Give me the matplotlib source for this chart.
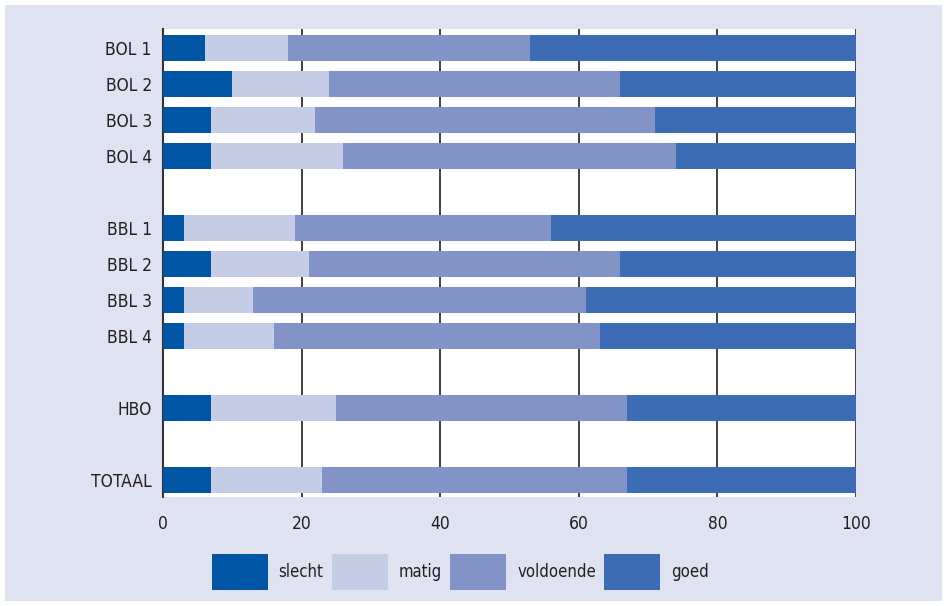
import numpy as np
import matplotlib.pyplot as plt
from matplotlib.patches import Patch

plt.rcParams["font.family"] = ["DejaVu Sans"]
plt.rcParams["font.stretch"] = "condensed"

# data (percentages)
categories = ["BOL 1", "BOL 2", "BOL 3", "BOL 4",
              "BBL 1", "BBL 2", "BBL 3", "BBL 4",
              "HBO", "TOTAAL"]
row_pos = [0, 1, 2, 3, 5, 6, 7, 8, 10, 12]
series = ["slecht", "matig", "voldoende", "goed"]
slecht = [6, 10, 7, 7, 3, 7, 3, 3, 7, 7]
matig = [12, 14, 15, 19, 16, 14, 10, 13, 18, 16]
voldoende = [35, 42, 49, 48, 37, 45, 48, 47, 42, 44]
goed = [47, 34, 29, 26, 44, 34, 39, 37, 33, 33]
xticks = [0, 20, 40, 60, 80, 100]

colors = ["#0055a5", "#c5cce6", "#8293c8", "#3c6cb4"]
bg = "#dfe2f1"
txt = "#231f20"

fig = plt.figure(figsize=(9.47, 6.06), dpi=100, facecolor=bg,
                 edgecolor="white", linewidth=6)
ax = fig.add_axes([0.1721, 0.1799, 0.7318, 0.7723])
ax.set_facecolor("white")

left = np.zeros(len(categories))
for name, vals, col in zip(series, [slecht, matig, voldoende, goed], colors):
    ax.barh(row_pos, vals, left=left, height=0.72, color=col,
            label=name, zorder=3)
    left += np.array(vals)

ax.set_xlim(0, 100)
ax.set_ylim(12.47, -0.53)
ax.set_xticks(xticks)
ax.set_yticks(row_pos)
ax.set_yticklabels(categories)
ax.tick_params(axis="both", length=0, labelsize=12.5, colors=txt)
ax.tick_params(axis="y", pad=8)
ax.tick_params(axis="x", pad=13)

for v in xticks[1:]:
    ax.axvline(v, color="#333333", lw=1.3, zorder=1)

for s in ["top", "right", "bottom"]:
    ax.spines[s].set_visible(False)
ax.spines["left"].set_color("#333333")
ax.spines["left"].set_linewidth(1.5)

handles = [Patch(facecolor=c, edgecolor="none") for c in colors]
fig.legend(handles, series, loc="center", bbox_to_anchor=(0.486, 0.056),
           ncol=4, frameon=False, fontsize=12, handlelength=3.36,
           handleheight=2.95, handletextpad=0.65, columnspacing=0.5,
           labelcolor=txt)

fig.savefig("out.png", dpi=100, facecolor=bg, edgecolor="white")
